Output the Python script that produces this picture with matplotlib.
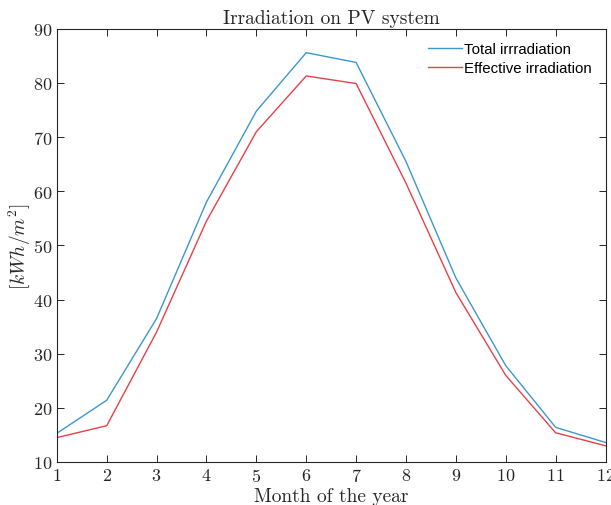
import matplotlib
matplotlib.use("Agg")
import matplotlib.pyplot as plt

months = list(range(1, 13))
total_irr = [15.3, 21.4, 36.5, 58.0, 74.8, 85.6, 83.8, 65.5, 44.0, 27.8, 16.4, 13.6]
effective_irr = [14.5, 16.7, 34.0, 54.5, 71.0, 81.3, 79.9, 61.5, 41.3, 26.0, 15.4, 13.0]

plt.rcParams["font.family"] = "cmr10"
plt.rcParams["mathtext.fontset"] = "cm"
plt.rcParams["axes.formatter.use_mathtext"] = True

fig = plt.figure(figsize=(6.11, 5.06), dpi=100)
ax = fig.add_axes([0.093, 0.085, 0.898, 0.856])

ax.plot(months, total_irr, color="#3d97cc", linewidth=1.0, label="Total irrradiation")
ax.plot(months, effective_irr, color="#e8404a", linewidth=1.0, label="Effective irradiation")

ax.set_xlim(1, 12)
ax.set_ylim(10, 90)
ax.set_xticks(months)
ax.set_yticks(range(10, 91, 10))
ax.tick_params(direction="in", top=True, right=True, labelsize=13, colors="#262626",
               length=5, width=0.7)
for s in ax.spines.values():
    s.set_color("#262626")
    s.set_linewidth(0.8)

ax.set_title("Irradiation on PV system", fontsize=14, color="#262626", pad=4)
ax.set_xlabel("Month of the year", fontsize=14, color="#262626", labelpad=2)
ax.set_ylabel(r"$[kWh/m^2]$", fontsize=14, color="#262626", labelpad=0)

leg = ax.legend(loc="upper right", frameon=False,
                prop={"family": "Liberation Sans", "size": 10.8},
                handlelength=2.3, handletextpad=0.15, labelspacing=0.3,
                bbox_to_anchor=(1.0, 1.0))

fig.savefig("out.png", dpi=100)
plt.close(fig)
